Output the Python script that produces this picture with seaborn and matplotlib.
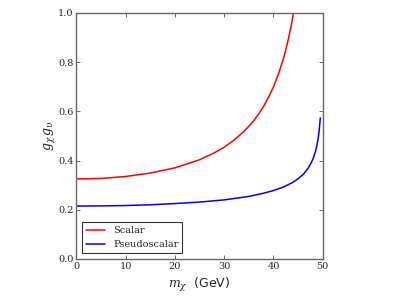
import numpy as np
import pandas as pd
import matplotlib
matplotlib.use("Agg")
import matplotlib.pyplot as plt
import seaborn as sns

sns.set_style('ticks')
sns.set_style({"xtick.direction": "in", "ytick.direction": "in",
               "axes.edgecolor": "#666666"})
plt.rcParams['font.family'] = ['DejaVu Serif']
plt.rcParams['mathtext.fontset'] = 'dejavuserif'

# values (m_chi in GeV)
m_scalar = [0, 5, 10, 15, 20, 25, 28, 30, 32, 34, 35, 36, 37, 38, 39, 40, 41, 42,
            42.5, 43, 43.5, 44, 44.5]
g_scalar = [0.325, 0.327, 0.335, 0.349, 0.370, 0.403, 0.431, 0.454, 0.483, 0.518,
            0.539, 0.562, 0.589, 0.620, 0.657, 0.699, 0.751, 0.813,
            0.850, 0.892, 0.939, 0.993, 1.056]

m_pseudo = [0, 5, 10, 15, 20, 25, 30, 35, 38, 40, 42, 44, 45, 46, 46.5, 47, 47.5,
            48, 48.5, 48.75, 49, 49.25, 49.5]
g_pseudo = [0.215, 0.2155, 0.217, 0.220, 0.225, 0.231, 0.240, 0.254, 0.267, 0.278,
            0.292, 0.312, 0.326, 0.343, 0.355, 0.368, 0.385,
            0.406, 0.436, 0.456, 0.482, 0.518, 0.573]

df = pd.concat([
    pd.DataFrame({'m': m_scalar, 'g': g_scalar, 'kind': 'Scalar'}),
    pd.DataFrame({'m': m_pseudo, 'g': g_pseudo, 'kind': 'Pseudoscalar'}),
])

fig = plt.figure(figsize=(3.99, 2.99), dpi=100)
ax = fig.add_axes([0.191, 0.134, 0.618, 0.823])
sns.lineplot(data=df, x='m', y='g', hue='kind', palette=['red', 'blue'],
             linewidth=1.1, ax=ax, sort=False, estimator=None)

ax.set_xlim(0, 50)
ax.set_ylim(0, 1.0)
ax.set_xticks(np.arange(0, 51, 10))
ax.set_yticks(np.arange(0, 1.01, 0.2))
ax.tick_params(top=True, right=True, labelsize=7, length=3, width=0.6,
               color='#555555', pad=2)
for s in ax.spines.values():
    s.set_linewidth(1.0)

ax.set_xlabel(r'$m_\chi$  (GeV)', fontsize=9, family='DejaVu Sans')
ax.set_ylabel(r'$g_\chi\, g_\upsilon$', fontsize=9, labelpad=1)

leg = ax.legend(loc='lower left', fontsize=7, frameon=True, fancybox=False,
                handlelength=2.0, borderaxespad=0.6)
leg.get_frame().set_edgecolor('black')
leg.get_frame().set_linewidth(0.8)

plt.savefig('out.png', dpi=100)
